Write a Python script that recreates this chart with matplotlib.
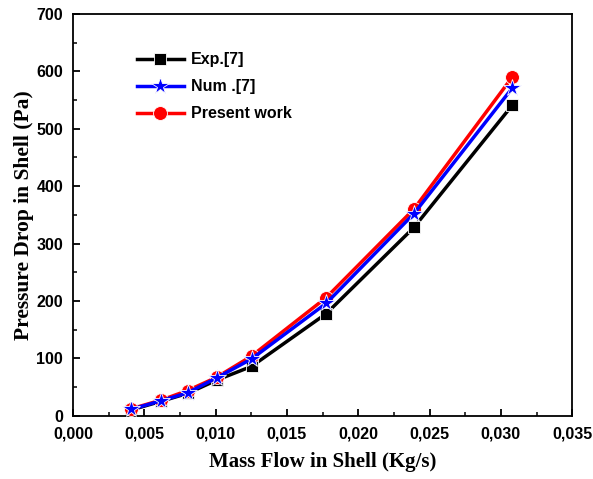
import matplotlib
matplotlib.use("Agg")
import matplotlib.pyplot as plt
from matplotlib.ticker import MultipleLocator, FuncFormatter

mass_flow = [0.00406, 0.00615, 0.00804, 0.01007, 0.01252, 0.01776, 0.0239, 0.0308]
exp_vals = [10, 25, 39, 62, 86, 178, 328, 541]
num_vals = [11, 26, 40, 66, 99, 196, 352, 571]
present_vals = [12, 27, 44, 67, 104, 206, 360, 590]

series = [
    ("Exp.[7]", exp_vals, "black", "s", 9, 2),
    ("Num .[7]", num_vals, "blue", "*", 13, 4),
    ("Present work", present_vals, "red", "o", 10, 3),
]

fig = plt.figure(figsize=(5.93, 4.79), dpi=100)
ax = fig.add_axes([0.123, 0.132, 0.842, 0.839])

for label, vals, color, marker, ms, z in series:
    ax.plot(mass_flow, vals, color=color, marker=marker, markersize=ms,
            linewidth=2.5, label=label, markeredgecolor="white",
            markeredgewidth=0.6, zorder=z)

ax.set_xlim(0, 0.035)
ax.set_ylim(0, 700)
ax.xaxis.set_major_locator(MultipleLocator(0.005))
ax.xaxis.set_minor_locator(MultipleLocator(0.0025))
ax.yaxis.set_major_locator(MultipleLocator(100))
ax.yaxis.set_minor_locator(MultipleLocator(50))
ax.xaxis.set_major_formatter(FuncFormatter(lambda v, p: f"{v:.3f}".replace(".", ",")))
ax.tick_params(which="both", direction="in", top=False, right=False)
ax.tick_params(which="major", length=5, width=1.3)
ax.tick_params(which="minor", length=3, width=1.1)
ax.tick_params(axis="x", which="major", pad=8)
ax.tick_params(axis="y", which="major", pad=7)
for lab in ax.get_xticklabels() + ax.get_yticklabels():
    lab.set_fontfamily("Liberation Sans")
    lab.set_fontweight("bold")
    lab.set_fontsize(11.5)
for sp in ax.spines.values():
    sp.set_linewidth(1.3)

ax.set_xlabel("Mass Flow in Shell (Kg/s)", fontfamily="Liberation Serif",
              fontweight="bold", fontsize=15, labelpad=7)
ax.set_ylabel("Pressure Drop in Shell (Pa)", fontfamily="Liberation Serif",
              fontweight="bold", fontsize=15.5, labelpad=2)

leg = ax.legend(loc="upper left", bbox_to_anchor=(0.1, 0.94), frameon=False,
                prop={"family": "Liberation Sans", "weight": "bold", "size": 11.5},
                handlelength=2.9, handletextpad=0.45, labelspacing=0.75)

fig.savefig("out.png", dpi=100)
